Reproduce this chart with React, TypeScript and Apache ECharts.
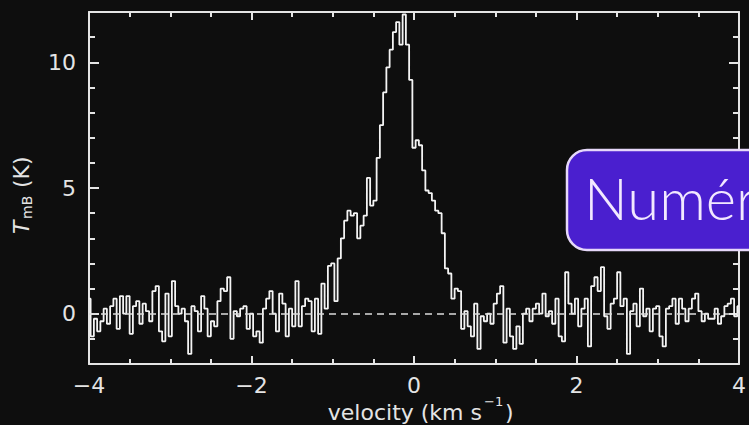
import React, { useEffect, useRef } from "react";
import * as echarts from "echarts";

// Spectrum: main-beam temperature (K) per channel, channel width 0.04 km/s starting at -4 km/s
const V_START = -4;
const CHANNEL_WIDTH = 0.04;
const TEMPS: number[] = [
  0.6, -0.9, -0.2, -0.7, -0.3, 0.2, -0.4, 0.3, 0.6, -0.6,
  0.7, 0.0, 0.7, -0.8, 0.3, 0.5, -0.4, 0.4, 0.1, -0.3,
  0.9, 1.1, -0.7, -1.1, 0.8, -0.9, 1.3, 0.3, 0.0, 0.2,
  -0.3, -1.6, 0.3, 0.1, -0.7, 0.7, 0.2,
  -0.9, -0.3, -0.5, 0.5, 1.0, 0.9, 1.45, -1.0, 0.1, -0.1,
  0.2, 0.3, -0.6, 0.0, -0.9, -0.7, -1.15, 0.2, 0.6, 0.9,
  0.0, -0.7, 0.8, 0.4, -0.9, 0.2, -0.5, 1.3, -0.5, 0.3,
  0.6, 0.5, -0.7, 0.6, -0.8,
  1.2, 0.2, 1.9, 2.0, 0.5, 2.2, 3.0, 3.7, 4.1, 3.9,
  4.0, 3.0, 3.5, 3.9, 5.4, 4.3, 4.5, 6.2, 7.5, 8.8,
  9.8, 10.5, 11.2, 11.6, 10.7, 11.9, 10.7, 9.3, 6.6, 6.9,
  6.7, 5.7, 4.9, 4.8, 4.5, 4.1, 4.0, 3.2, 1.8, 1.6,
  0.6, 1.0, 0.9, -0.6,
  0.1, -0.5, -0.9, 0.4, -1.4, -0.1, -0.3, 0.0, -0.4, 0.4,
  0.8, 1.1, -1.15, 0.2, -0.9, -1.4, -0.5, -1.2, 0.0, 0.2,
  -0.3, 0.2, 0.4, 0.0, 0.8, -0.1, 0.1, -0.4, 0.6, -0.9,
  -1.1, 1.65, 0.4, 0.0, 0.6, -0.5, 0.2, 0.6, -1.3, 1.1,
  1.45, 0.9, 1.85, -0.1, -0.6, 0.4, 0.6, 1.65, 0.3, 0.6,
  -1.6, 0.1, 0.4, -0.5, 1.0, -0.1, 0.2, -0.7, 0.2, 0.3,
  -0.9, -1.3, 0.2, 0.3, 0.6, -0.4, 0.6, 0.2, -0.3, 0.2,
  0.6, 0.8, 0.1, -0.3, 0.0, -0.2, -0.2, 0.2, -0.4, -0.1,
  0.3, 0.4, 0.6, -0.1, 0.3,
];

const X_MIN = -4;
const X_MAX = 4;
const Y_MIN = -2;
const Y_MAX = 12;
const Y_MAJOR_TICKS = [0, 5, 10];
const BANNER_TEXT = "Numér";

const FG = "#e4e4e4";
const BG = "#0e0e0e";
const FONT = "DejaVu Sans";

const minus = (v: number) => String(v).replace("-", "\u2212");

export default function App() {
  const ref = useRef<HTMLDivElement>(null);

  useEffect(() => {
    if (!ref.current) return;
    const chart = echarts.init(ref.current, undefined, { renderer: "svg" });
    const data = TEMPS.map((t, i) => [
      +(V_START + i * CHANNEL_WIDTH).toFixed(2),
      t,
    ]);

    const tickStyle = { color: FG, width: 2 };
    const hiddenAxisBits = {
      axisLabel: { show: false },
      splitLine: { show: false },
    };

    chart.setOption({
      animation: false,
      backgroundColor: BG,
      grid: { left: 89, right: 0, top: 12, bottom: 61 },
      xAxis: [
        {
          type: "value",
          min: X_MIN,
          max: X_MAX,
          interval: 2,
          position: "bottom",
          axisLine: { onZero: false, lineStyle: { color: FG, width: 2 } },
          axisTick: { inside: true, length: 8, lineStyle: tickStyle },
          minorTick: { show: true, splitNumber: 4, length: 5, lineStyle: tickStyle },
          axisLabel: {
            color: FG,
            fontFamily: FONT,
            fontSize: 22,
            margin: 10,
            formatter: (v: number) => minus(v),
          },
          splitLine: { show: false },
        },
        {
          type: "value",
          min: X_MIN,
          max: X_MAX,
          interval: 2,
          position: "top",
          axisLine: { onZero: false, lineStyle: { color: FG, width: 2 } },
          axisTick: { inside: true, length: 8, lineStyle: tickStyle },
          minorTick: { show: true, splitNumber: 4, length: 5, lineStyle: tickStyle },
          ...hiddenAxisBits,
        },
      ],
      yAxis: [
        {
          type: "value",
          min: Y_MIN,
          max: Y_MAX,
          interval: 1,
          position: "left",
          axisLine: { show: true, onZero: false, lineStyle: { color: FG, width: 2 } },
          axisTick: { inside: true, length: 6, lineStyle: tickStyle },
          axisLabel: {
            color: FG,
            fontFamily: FONT,
            fontSize: 22,
            margin: 13,
            customValues: Y_MAJOR_TICKS,
            formatter: (v: number) => minus(v),
          },
          splitLine: { show: false },
        },
        {
          type: "value",
          min: Y_MIN,
          max: Y_MAX,
          position: "left",
          offset: 0,
          axisLine: { show: false, onZero: false },
          axisTick: {
            inside: true,
            length: 10,
            customValues: Y_MAJOR_TICKS,
            lineStyle: tickStyle,
          },
          ...hiddenAxisBits,
        },
        {
          type: "value",
          min: Y_MIN,
          max: Y_MAX,
          interval: 1,
          position: "right",
          axisLine: { show: true, onZero: false, lineStyle: { color: FG, width: 2 } },
          axisTick: { inside: true, length: 6, lineStyle: tickStyle },
          ...hiddenAxisBits,
        },
        {
          type: "value",
          min: Y_MIN,
          max: Y_MAX,
          position: "right",
          offset: 0,
          axisLine: { show: false, onZero: false },
          axisTick: {
            inside: true,
            length: 10,
            customValues: Y_MAJOR_TICKS,
            lineStyle: tickStyle,
          },
          ...hiddenAxisBits,
        },
      ],
      series: [
        {
          type: "line",
          step: "middle",
          xAxisIndex: 0,
          yAxisIndex: 0,
          data,
          showSymbol: false,
          symbol: "none",
          lineStyle: { color: "#f4f4f4", width: 1.8 },
          markLine: {
            silent: true,
            symbol: "none",
            label: { show: false },
            lineStyle: { color: "#dcdcdc", width: 1.5, type: [7, 5] },
            data: [{ yAxis: 0 }],
          },
          z: 3,
        },
      ],
      graphic: [
        {
          type: "group",
          x: 21,
          y: 194,
          rotation: Math.PI / 2,
          children: [
            {
              type: "text",
              x: -40,
              y: 0,
              style: {
                text: "T",
                fontFamily: FONT,
                fontStyle: "italic",
                fontSize: 22,
                fill: FG,
                textAlign: "left",
                textVerticalAlign: "middle",
              },
            },
            {
              type: "text",
              x: -25,
              y: 6,
              style: {
                text: "mB",
                fontFamily: FONT,
                fontSize: 14,
                fill: FG,
                textAlign: "left",
                textVerticalAlign: "middle",
              },
            },
            {
              type: "text",
              x: 6,
              y: 0,
              style: {
                text: "(K)",
                fontFamily: FONT,
                fontSize: 22,
                fill: FG,
                textAlign: "left",
                textVerticalAlign: "middle",
              },
            },
          ],
        },
        {
          type: "text",
          x: 482,
          y: 412,
          style: {
            text: "velocity (km s",
            fontFamily: FONT,
            fontSize: 22,
            fill: FG,
            textAlign: "right",
            textVerticalAlign: "middle",
          },
        },
        {
          type: "text",
          x: 484,
          y: 401,
          style: {
            text: "\u22121",
            fontFamily: FONT,
            fontSize: 13,
            fill: FG,
            textAlign: "left",
            textVerticalAlign: "middle",
          },
        },
        {
          type: "text",
          x: 505,
          y: 412,
          style: {
            text: ")",
            fontFamily: FONT,
            fontSize: 22,
            fill: FG,
            textAlign: "left",
            textVerticalAlign: "middle",
          },
        },
        {
          type: "rect",
          shape: { x: 567, y: 150, width: 240, height: 100, r: 20 },
          style: { fill: "#4a1fcf", stroke: "#e6d8fa", lineWidth: 2.5 },
          z: 10,
        },
        {
          type: "text",
          x: 584,
          y: 197,
          style: {
            text: BANNER_TEXT,
            fontFamily: "Lato",
            fontWeight: 300,
            fontSize: 58,
            fill: "#f2e8ff",
            textAlign: "left",
            textVerticalAlign: "middle",
          },
          z: 11,
        },
      ],
    });

    return () => chart.dispose();
  }, []);

  return (
    <div
      ref={ref}
      style={{
        position: "fixed",
        left: 0,
        top: 0,
        width: 749,
        height: 425,
        background: BG,
      }}
    />
  );
}
